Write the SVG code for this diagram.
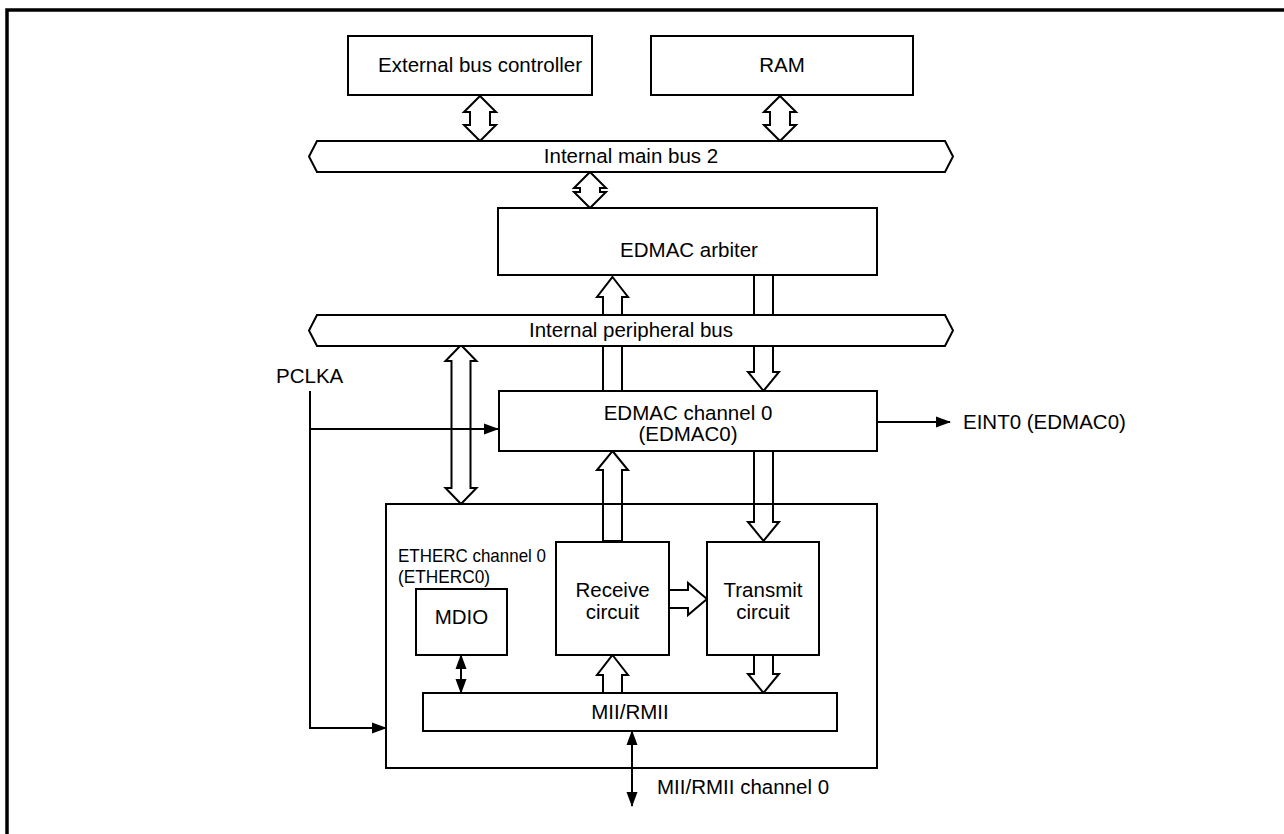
<svg xmlns="http://www.w3.org/2000/svg" width="1284" height="834" viewBox="0 0 1284 834">
<style>
.box{fill:#fff;stroke:#000;stroke-width:2}
.frame{fill:none;stroke:#000;stroke-width:2}
.bus{fill:#fff;stroke:#000;stroke-width:2}
.hol{fill:#fff;stroke:#000;stroke-width:2;stroke-linejoin:miter}
.hol2{fill:none;stroke:#000;stroke-width:2}
.ln{fill:none;stroke:#000;stroke-width:2}
text{font-family:"Liberation Sans",Arial,sans-serif;font-size:20.5px;fill:#000}
.c{text-anchor:middle}
.s{font-size:19px}
</style>
<defs>
<marker id="ah" markerWidth="15" markerHeight="12" refX="14" refY="6" orient="auto-start-reverse" markerUnits="userSpaceOnUse">
<path d="M0,0.5 L15,6 L0,11.5 Z" fill="#000"/>
</marker>
</defs>
<rect width="1284" height="834" fill="#fff"/>
<path d="M7,834 V10 H1284" fill="none" stroke="#000" stroke-width="3.5"/>

<g id="connectors">
<polygon class="hol" points="480,96 496,112 490,112 490,125 496,125 480,141 464,125 470,125 470,112 464,112"/>
<polygon class="hol" points="780,96 796,112 790,112 790,125 796,125 780,141 764,125 770,125 770,112 764,112"/>
<polygon class="hol" points="590,172 606,188 600,188 600,192 606,192 590,208 574,192 580,192 580,188 574,188"/>
<polygon class="hol2" points="612.5,277 628,297 622,297 622,391 603,391 603,297 597,297"/>
<polygon class="hol2" points="754,275 773,275 773,372 779,372 763.5,391 748,372 754,372"/>
<polygon class="hol2" points="461,345 476.5,361 470.5,361 470.5,488 476.5,488 461,504 445.5,488 451.5,488 451.5,361 445.5,361"/>
<polygon class="hol" points="612.5,451 628,470 622,470 622,541 603,541 603,470 597,470"/>
<polygon class="hol" points="754,451 773,451 773,522 779,522 763.5,541 748,522 754,522"/>
<polygon class="hol" points="669,590 688,590 688,583 707,599 688,615 688,608 669,608"/>
<polygon class="hol" points="612.5,655 628,675 622,675 622,693 603,693 603,675 597,675"/>
<polygon class="hol" points="754,655 773,655 773,674 779,674 763.5,693 748,674 754,674"/>
<path class="ln" d="M310,391 V728 H386" marker-end="url(#ah)"/>
<path class="ln" d="M310,429 H498" marker-end="url(#ah)"/>
<path class="ln" d="M877,422 H950" marker-end="url(#ah)"/>
<path class="ln" d="M461,655 V693" marker-start="url(#ah)" marker-end="url(#ah)"/>
<path class="ln" d="M632,731 V806" marker-start="url(#ah)" marker-end="url(#ah)"/>
</g>

<g id="ext-bus-controller">
<rect class="box" x="348" y="36" width="244" height="59"/>
<text class="c" x="480" y="72">External bus controller</text>
</g>
<g id="ram">
<rect class="box" x="651" y="36" width="262" height="59"/>
<text class="c" x="782" y="72">RAM</text>
</g>
<g id="internal-main-bus-2">
<polygon class="bus" points="317,141 945,141 953,156.5 945,172 317,172 309,156.5"/>
<text class="c" x="631" y="163">Internal main bus 2</text>
</g>
<g id="edmac-arbiter">
<rect class="box" x="498" y="208" width="379" height="67"/>
<text class="c" x="689" y="257">EDMAC arbiter</text>
</g>
<g id="internal-peripheral-bus">
<polygon class="bus" points="317,315 945,315 953,330.5 945,346 317,346 309,330.5"/>
<text class="c" x="631" y="337">Internal peripheral bus</text>
</g>
<g id="pclka">
<text x="276" y="383">PCLKA</text>
</g>
<g id="edmac-ch0">
<rect class="box" x="499" y="391" width="378" height="60"/>
<text class="c" x="688" y="420">EDMAC channel 0</text>
<text class="c" x="688" y="441">(EDMAC0)</text>
</g>
<g id="eint0">
<text x="963" y="429">EINT0 (EDMAC0)</text>
</g>
<g id="etherc-ch0">
<rect class="frame" x="386" y="504" width="491" height="264"/>
<text class="s" x="398" y="562" textLength="148" lengthAdjust="spacingAndGlyphs">ETHERC channel 0</text>
<text class="s" x="398" y="583" textLength="92" lengthAdjust="spacingAndGlyphs">(ETHERC0)</text>
</g>
<g id="receive-circuit">
<rect class="box" x="556" y="542" width="113" height="113"/>
<text class="c" x="612.5" y="597">Receive</text>
<text class="c" x="612.5" y="619">circuit</text>
</g>
<g id="transmit-circuit">
<rect class="box" x="707" y="542" width="112" height="113"/>
<text class="c" x="763" y="597">Transmit</text>
<text class="c" x="763" y="619">circuit</text>
</g>
<g id="mdio">
<rect class="box" x="416" y="589" width="91" height="66"/>
<text class="c" x="461.5" y="624">MDIO</text>
</g>
<g id="mii-rmii">
<rect class="box" x="423" y="693" width="414" height="38"/>
<text class="c" x="630" y="719">MII/RMII</text>
</g>
<g id="mii-rmii-ch0">
<text x="657" y="794">MII/RMII channel 0</text>
</g>
</svg>
